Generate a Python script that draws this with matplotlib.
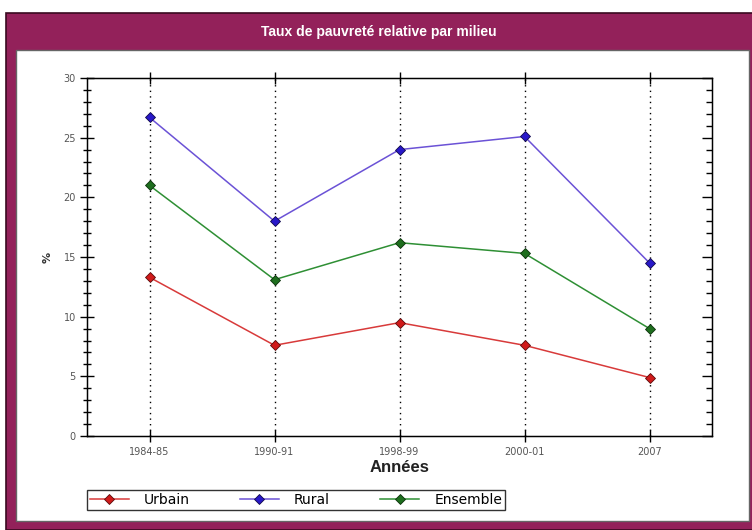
import matplotlib.pyplot as plt
from matplotlib.patches import Rectangle
from matplotlib.ticker import MultipleLocator

# Taux de pauvreté relative (%) par milieu de résidence
annees = ["1984-85", "1990-91", "1998-99", "2000-01", "2007"]
urbain = [13.3, 7.6, 9.5, 7.6, 4.9]
rural = [26.7, 18.0, 24.0, 25.1, 14.5]
ensemble = [21.0, 13.1, 16.2, 15.3, 9.0]

W, H = 752, 530
fig = plt.figure(figsize=(W / 100, H / 100), dpi=100)
fig.patch.set_facecolor("white")

# cadre bordeaux + panneau blanc (sous les axes)
fig.patches.append(Rectangle((6 / W, 0), 1, (H - 13) / H, transform=fig.transFigure,
                             facecolor="#93215A", edgecolor="#3a0a20", lw=1.2, zorder=-2))
fig.patches.append(Rectangle((16 / W, 9 / H), 733 / W, (521 - 50) / H, transform=fig.transFigure,
                             facecolor="white", edgecolor="#666666", lw=1, zorder=-1))
fig.text(379 / W, 1 - 32 / H, "Taux de pauvreté relative par milieu", color="white",
         ha="center", va="center", fontsize=10, fontweight="bold",
         family=["Liberation Sans", "DejaVu Sans"])

ax = fig.add_axes([87 / W, 1 - 436 / H, 625 / W, 358 / H])
ax.set_facecolor("white")
x = range(len(annees))

ax.plot(x, urbain, color="#D83A3A", lw=1.1, marker="D", ms=5.5,
        mfc="#D01A1A", mec="#5a0a0a", mew=0.6, label="Urbain", zorder=3)
ax.plot(x, rural, color="#6B52D6", lw=1.1, marker="D", ms=5.5,
        mfc="#2818C8", mec="#10084a", mew=0.6, label="Rural", zorder=3)
ax.plot(x, ensemble, color="#2E8F34", lw=1.1, marker="D", ms=5.5,
        mfc="#1E6E1E", mec="#0a300a", mew=0.6, label="Ensemble", zorder=3)

ax.set_xlim(-0.5, len(annees) - 0.5)
ax.set_ylim(0, 30)
ax.set_xticks(list(x))
ax.set_xticklabels(annees)
ax.yaxis.set_major_locator(MultipleLocator(5))
ax.yaxis.set_minor_locator(MultipleLocator(1))

for xi in x:
    ax.axvline(xi, color="black", lw=1, ls=(0, (1, 3)), zorder=1)

for s in ax.spines.values():
    s.set_color("black")
    s.set_linewidth(1)

ax.tick_params(axis="x", which="major", direction="inout", length=8, width=1,
               top=True, labelsize=7, labelcolor="#555555", pad=4)
ax.tick_params(axis="y", which="major", direction="inout", length=10, width=1,
               labelsize=7, labelcolor="#555555", pad=3)
ax.tick_params(axis="y", which="minor", direction="inout", length=6, width=1)

# graduations internes du côté droit
ax2 = ax.twinx()
ax2.set_ylim(0, 30)
ax2.yaxis.set_major_locator(MultipleLocator(5))
ax2.yaxis.set_minor_locator(MultipleLocator(1))
ax2.tick_params(axis="y", which="major", direction="in", length=7, width=1, labelright=False)
ax2.tick_params(axis="y", which="minor", direction="in", length=4, width=1)

ax.set_xlabel("Années", fontsize=12, fontweight="bold", color="#222222", labelpad=2,
              family=["Liberation Sans", "DejaVu Sans"])
ax.set_ylabel("%", fontsize=8, fontweight="bold", color="#333333", labelpad=8)

leg = fig.legend(loc="lower left", bbox_to_anchor=(87 / W, 1 - 510 / H), ncol=3,
                 fontsize=10, frameon=True, fancybox=False, handlelength=2.8,
                 columnspacing=3.6, handletextpad=1.1, borderpad=0.2,
                 borderaxespad=0)
leg.get_frame().set_edgecolor("black")
leg.get_frame().set_linewidth(1)

fig.savefig("out.png", dpi=100)
